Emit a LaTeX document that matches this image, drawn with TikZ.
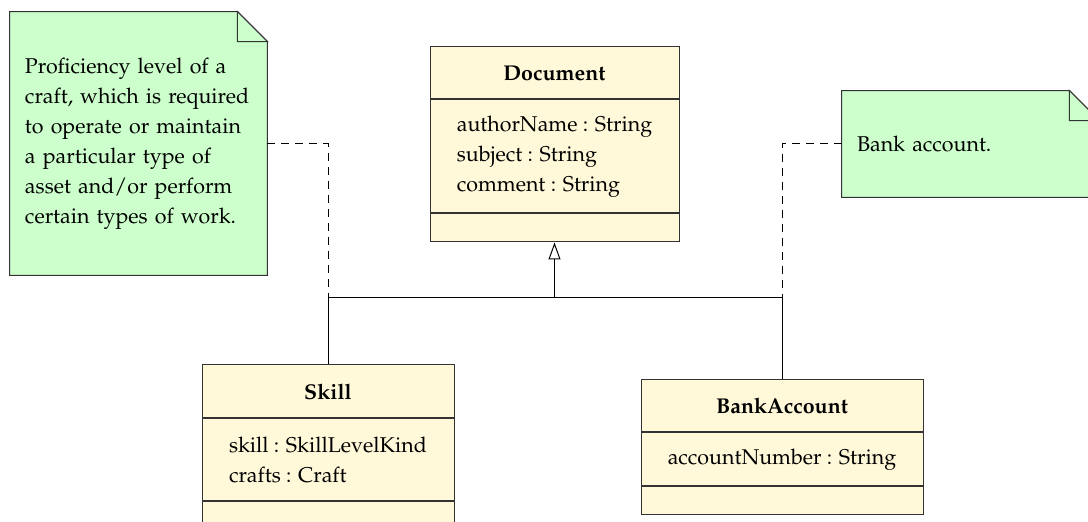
\documentclass[tikz,border=0pt]{standalone}
\usepackage[T1]{fontenc}
\usepackage{mathpazo}
\usetikzlibrary{positioning,arrows.meta,backgrounds}
\definecolor{classfill}{HTML}{FFF9D9}
\definecolor{notefill}{HTML}{CCFFCC}
\definecolor{umlline}{HTML}{333333}
\tikzset{
	classbox/.style={draw=umlline,fill=classfill,line width=0.5pt,inner sep=0pt,font=\fontsize{10.7}{15}\selectfont},
	classname/.style={classbox,font=\fontsize{10.7}{15}\selectfont\bfseries},
	classattr/.style={classbox,align=left},
	notetext/.style={inner xsep=7.5pt,inner ysep=0pt,text width=113.5pt,align=left,font=\fontsize{10.7}{15}\selectfont},
	notepaper/.style={draw=umlline,fill=notefill,line width=0.5pt},
	dashline/.style={dash pattern=on 4pt off 3pt,line width=0.5pt},
	genline/.style={line width=0.5pt}
}
\begin{document}
\begin{tikzpicture}[x=0.5pt,y=-0.5pt]
	\useasboundingbox (0,0) rectangle (1088,522);
	% classes
	\node[classname,minimum width=124.5pt,minimum height=26pt] (doc) at (554.5,73) {Document};
	\node[classattr,minimum width=124.5pt,minimum height=56.5pt,below=0pt of doc] (docattr) {authorName : String\\subject : String\\comment : String};
	\node[classbox,minimum width=124.5pt,minimum height=14pt,below=0pt of docattr] (docops) {};
	\node[classname,minimum width=126pt,minimum height=26.5pt] (skill) at (328,391.5) {Skill};
	\node[classattr,minimum width=126pt,minimum height=41pt,below=0pt of skill] (skillattr) {skill : SkillLevelKind\\crafts : Craft};
	\node[classbox,minimum width=126pt,minimum height=14pt,below=0pt of skillattr] (skillops) {};
	\node[classname,minimum width=141pt,minimum height=26pt] (bank) at (782,406) {BankAccount};
	\node[classattr,minimum width=141pt,minimum height=26.5pt,below=0pt of bank] (bankattr) {accountNumber : String};
	\node[classbox,minimum width=141pt,minimum height=14pt,below=0pt of bankattr] (bankops) {};
	% notes
	\node[notetext,minimum height=131.5pt] (skillnote) at (138.5,143.5) {Proficiency level of a\\craft, which is required\\to operate or maintain\\a particular type of\\asset and/or perform\\certain types of work.};
	\node[notetext,minimum height=53pt] (banknote) at (970.5,144) {Bank account.};
	\begin{scope}[on background layer]
		\foreach \n in {skillnote,banknote}{
			\draw[notepaper] (\n.north west) -- ([xshift=-15pt]\n.north east) -- ([yshift=-15pt]\n.north east) -- (\n.south east) -- (\n.south west) -- cycle;
			\draw[notepaper] ([xshift=-15pt]\n.north east) |- ([yshift=-15pt]\n.north east) -- cycle;
		}
	\end{scope}
	% connectors
	\coordinate (gen) at ([yshift=-27.5pt]docops.south);
	\draw[genline] (skill.north) |- (gen) -| (bank.north);
	\draw[genline,-{Triangle[open,length=8.5pt,width=6pt]}] (gen) -- (docops.south);
	\draw[dashline] (skillnote.east) -| (skill.north);
	\draw[dashline] (banknote.west) -| (bank.north);
\end{tikzpicture}
\end{document}
